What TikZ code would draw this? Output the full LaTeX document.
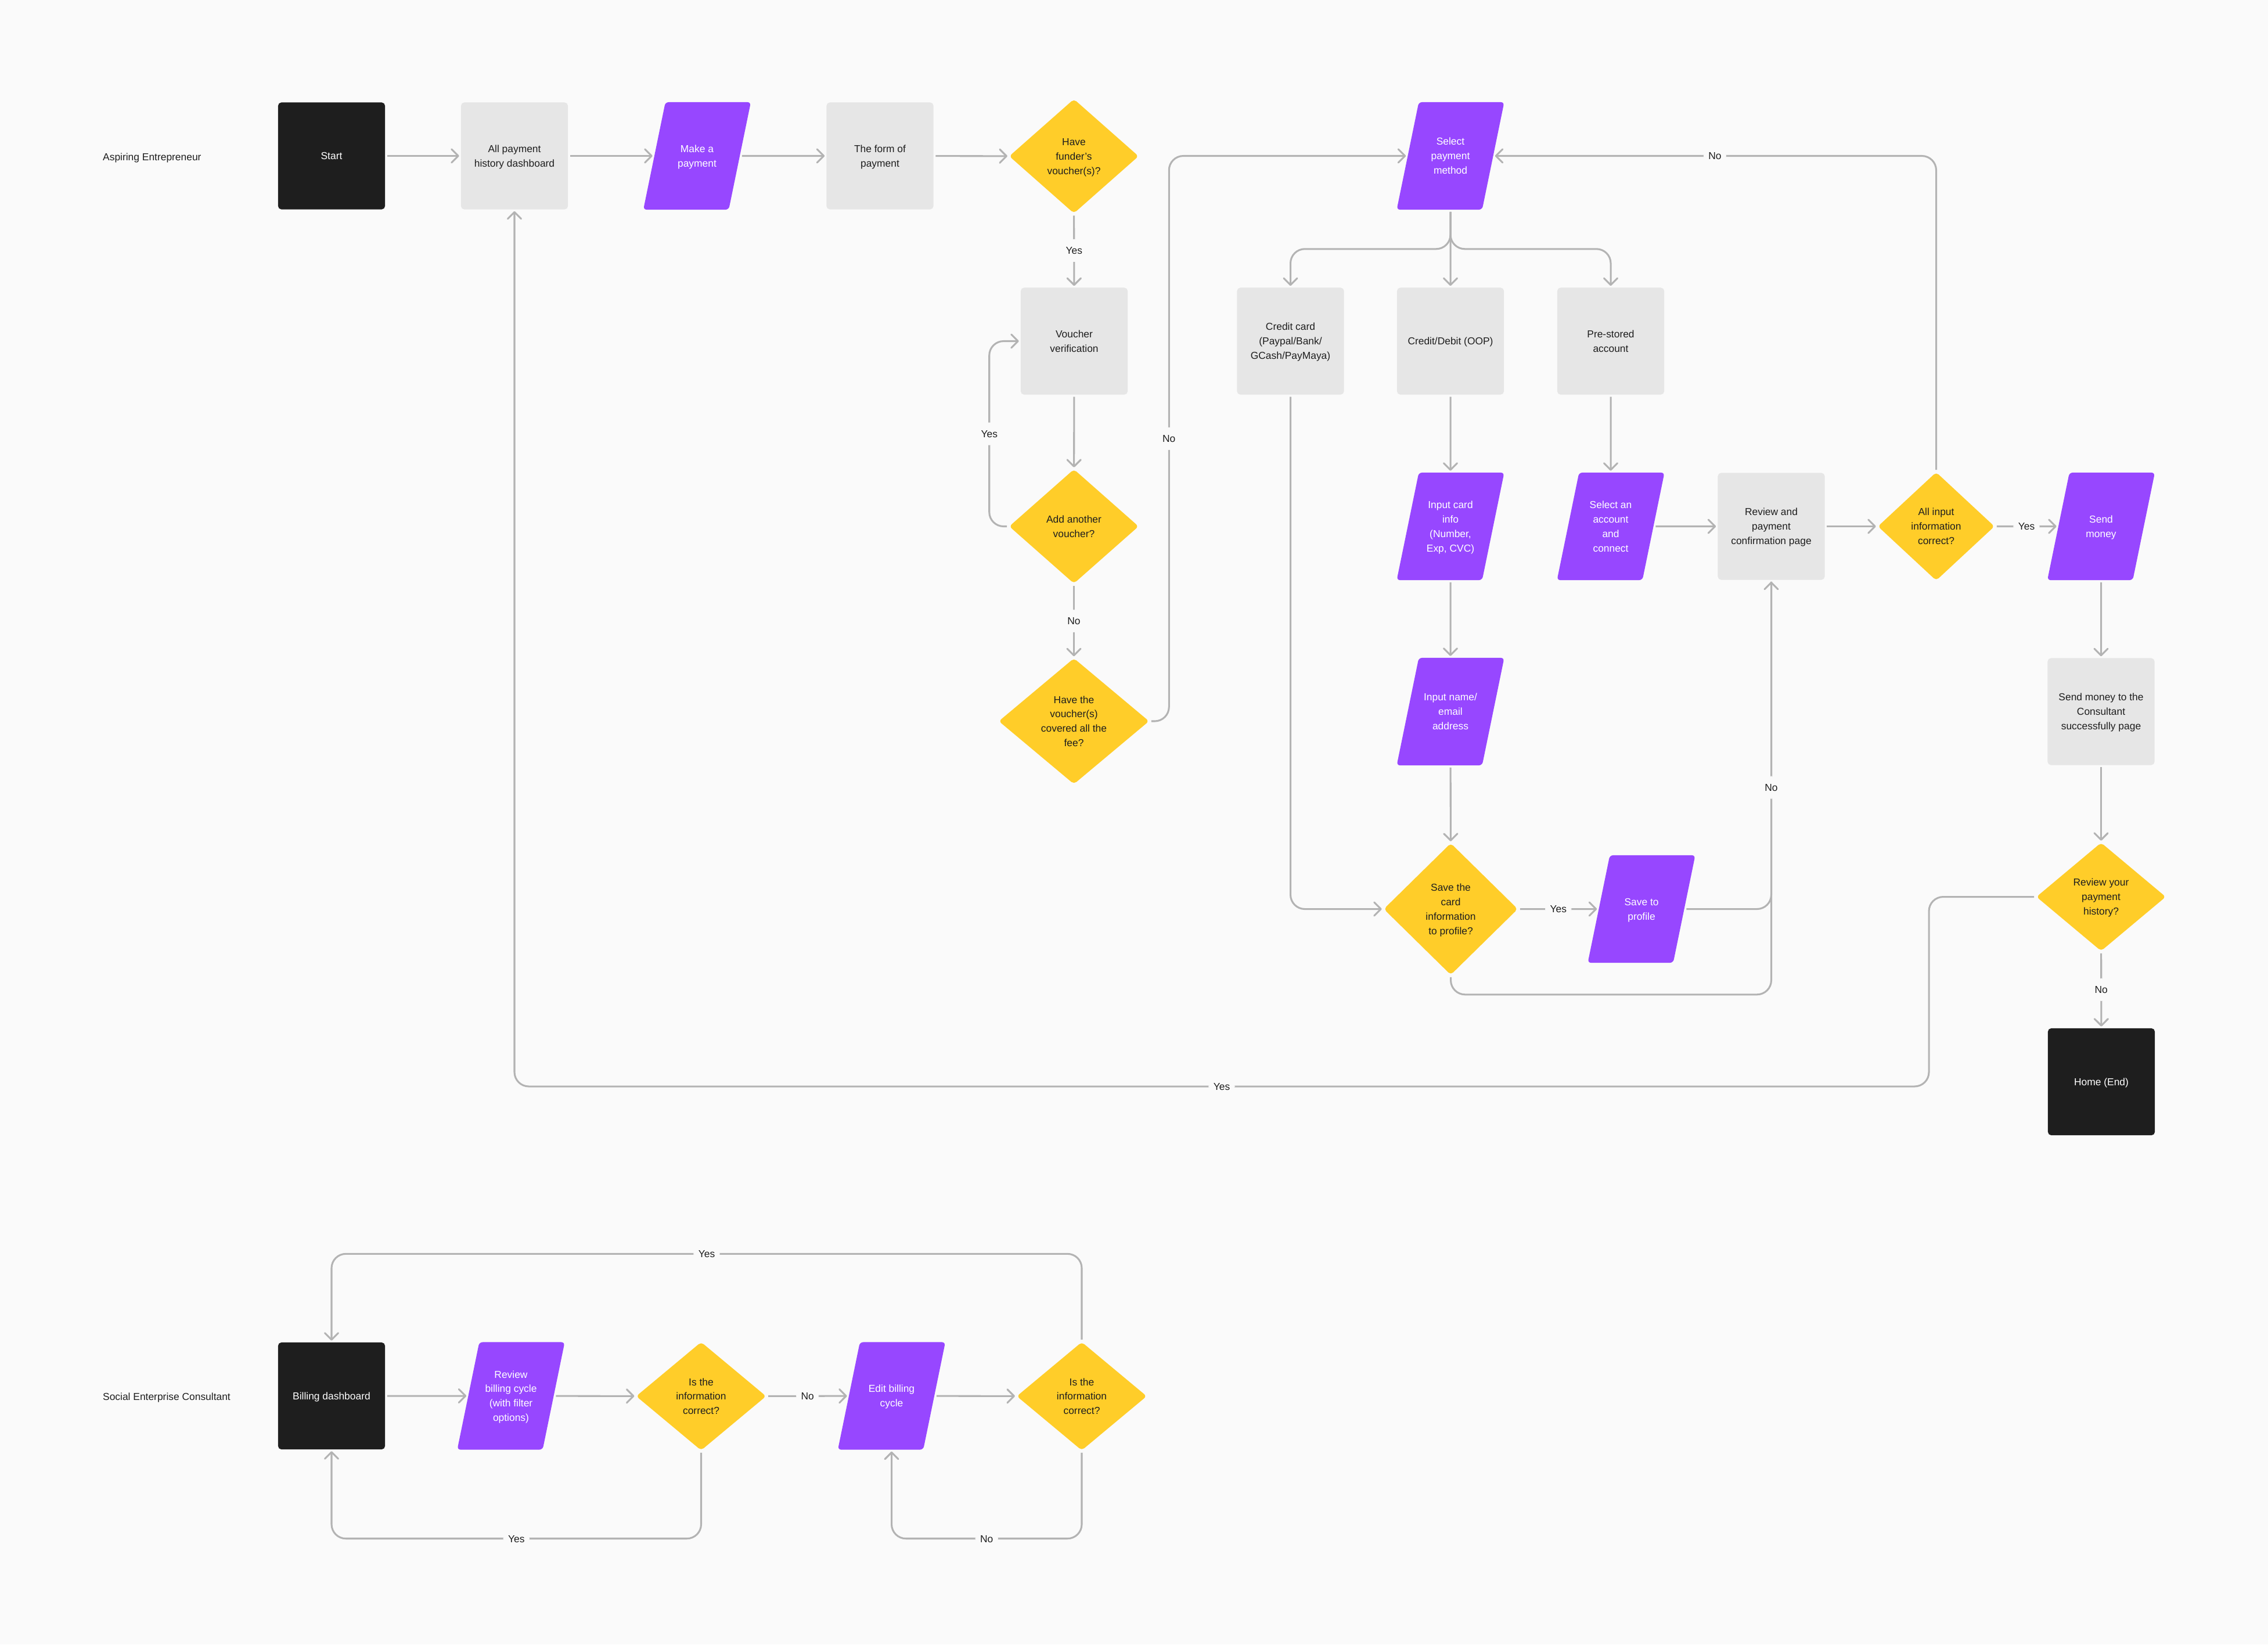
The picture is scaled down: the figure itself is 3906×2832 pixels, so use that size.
\documentclass[tikz,border=0pt]{standalone}
\usepackage{fontspec}
\setmainfont{Liberation Sans}
\usetikzlibrary{shapes.geometric, arrows.meta}

\definecolor{canvas}{HTML}{FAFAFA}
\definecolor{ink}{HTML}{1E1E1E}
\definecolor{stepgray}{HTML}{E6E6E6}
\definecolor{iopurple}{HTML}{9747FF}
\definecolor{askyellow}{HTML}{FFCD29}
\definecolor{wire}{HTML}{B3B3B3}

% line box of one text line
\newcommand\flowstrut{\rule[-1.72pt]{0pt}{7.1pt}}

\begin{document}
\begin{tikzpicture}[x=0.01cm, y=-0.01cm,
  every node/.style={font=\fontsize{4.95}{7.1}\selectfont, text=ink, inner sep=0pt},
  stepbox/.style={rectangle, rounded corners=1.6pt, fill=stepgray, minimum width=1.84cm, minimum height=1.84cm,
    execute at begin node={\begin{minipage}{1.6cm}\centering\flowstrut},
    execute at end node={\flowstrut\end{minipage}}},
  endbox/.style={stepbox, fill=ink, text=white},
  iobox/.style={trapezium, trapezium left angle=78.4, trapezium right angle=101.6, trapezium stretches body,
    rounded corners=1.6pt, fill=iopurple, text=white, minimum width=1.85cm,
    execute at begin node={\begin{minipage}[c][1.85cm][c]{1cm}\centering\flowstrut},
    execute at end node={\flowstrut\end{minipage}}},
  ask/.style={diamond, rounded corners=1.6pt, fill=askyellow,
    execute at begin node={\begin{minipage}{#1}\centering\flowstrut},
    execute at end node={\flowstrut\end{minipage}}},
  ask/.default=1.12cm,
  flow/.style={draw=wire, line width=0.87pt, rounded corners=7pt, shorten >=0.7pt, shorten <=0.9pt,
    -{Straight Barb[length=3.3pt, width=6.6pt, round]}},
  lbl/.style={fill=canvas, inner xsep=2.4pt, inner ysep=2pt, execute at begin node=\flowstrut},
  lane/.style={anchor=west, execute at begin node=\flowstrut}
]

  \path[use as bounding box, fill=canvas] (0,0) rectangle (3906,2832);

  % lane: aspiring entrepreneur
  \node[lane] (lane1) at (176.5,270) {Aspiring Entrepreneur};

  \node[endbox] (start) at (571,268.5) {Start};
  \node[stepbox] (hist) at (886,268.5) {All payment\\history dashboard};
  \node[iobox] (make) at (1200.5,268.5) {Make a\\payment};
  \node[stepbox] (form) at (1515.5,268.5) {The form of\\payment};
  \node[ask, minimum width=2.23cm, minimum height=1.97cm] (dfund) at (1849.5,269) {Have\\funder’s\\voucher(s)?};
  \node[iobox] (spm) at (2498,268.5) {Select\\payment\\method};

  \node[stepbox] (vver) at (1850,587.5) {Voucher\\verification};
  \node[stepbox] (ccard) at (2222.5,587.5) {Credit card\\(Paypal/Bank/\\GCash/PayMaya)};
  \node[stepbox] (cdebit) at (2498,587.5) {Credit/Debit (OOP)};
  \node[stepbox] (prest) at (2774,587.5) {Pre-stored\\account};

  \node[ask, minimum width=2.23cm, minimum height=1.97cm] (danother) at (1849.5,906.5) {Add another\\voucher?};
  \node[iobox] (incard) at (2498,906.5) {Input card\\info\\(Number,\\Exp, CVC)};
  \node[iobox] (selacc) at (2774,906.5) {Select an\\account\\and\\connect};
  \node[stepbox] (review) at (3050.5,906.5) {Review and\\payment\\confirmation page};
  \node[ask, minimum width=2.01cm, minimum height=1.85cm] (dinput) at (3334.5,906.5) {All input\\information\\correct?};
  \node[iobox] (send) at (3618.5,906.5) {Send\\money};

  \node[ask=1.16cm, minimum width=2.59cm, minimum height=2.17cm] (dcover) at (1849.5,1242) {Have the\\voucher(s)\\covered all the\\fee?};
  \node[iobox] (inname) at (2498,1225.5) {Input name/\\email\\address};
  \node[stepbox] (sent) at (3618.5,1225.5) {Send money to the\\Consultant\\successfully page};

  \node[ask, minimum width=2.31cm, minimum height=2.27cm] (dsave) at (2498.5,1565.5) {Save the\\card\\information\\to profile?};
  \node[iobox] (savep) at (2827,1565.5) {Save to\\profile};
  \node[ask, minimum width=2.23cm, minimum height=1.85cm] (dhist) at (3618.5,1544.5) {Review your\\payment\\history?};

  \node[endbox] (home) at (3619,1863) {Home (End)};
  \coordinate (histturn) at (3322,1871);

  \draw[flow] (start) -- (hist);
  \draw[flow] (hist) -- (make);
  \draw[flow] (make) -- (form);
  \draw[flow] (form) -- (dfund);
  \draw[flow] (dfund) -- node[lbl] {Yes} (vver);
  \draw[flow] (vver) -- (danother);
  \draw[flow] (danother.west) -- ++(-33.5,0) |- node[lbl, pos=0.25] {Yes} (vver.west);
  \draw[flow] (danother) -- node[lbl] {No} (dcover);
  \draw[flow] (dcover.east) -- ++(33.5,0) |- node[lbl, pos=0.25] {No} (spm.west);

  \draw[flow] (spm.south) -- (cdebit.north);
  \draw[flow] (spm.south) -- ++(0,67) -| (ccard.north);
  \draw[flow] (spm.south) -- ++(0,67) -| (prest.north);

  \draw[flow] (ccard.south) |- (dsave.west);
  \draw[flow] (cdebit) -- (incard);
  \draw[flow] (incard) -- (inname);
  \draw[flow] (inname) -- (dsave);
  \draw[flow] (dsave) -- node[lbl] {Yes} (savep);
  \draw[flow, -] (savep.east) -| (review.south);
  \draw[flow] (dsave.south) -- ++(0,33) -| node[lbl, pos=0.75] {No} (review.south);

  \draw[flow] (prest) -- (selacc);
  \draw[flow] (selacc) -- (review);
  \draw[flow] (review) -- (dinput);
  \draw[flow] (dinput.north) |- node[lbl, pos=0.75] {No} (spm.east);
  \draw[flow] (dinput) -- node[lbl] {Yes} (send);
  \draw[flow] (send) -- (sent);
  \draw[flow] (sent) -- (dhist);
  \draw[flow] (dhist.west) -| (histturn) -| node[lbl, pos=0.25] {Yes} (hist.south);
  \draw[flow] (dhist) -- node[lbl] {No} (home);

  % lane: social enterprise consultant
  \node[lane] (lane2) at (176.5,2405) {Social Enterprise Consultant};

  \node[endbox] (bill) at (571,2404) {Billing dashboard};
  \node[iobox] (revbill) at (880,2404) {Review\\billing cycle\\(with filter\\options)};
  \node[ask, minimum width=2.24cm, minimum height=1.85cm] (dok1) at (1207.5,2404.5) {Is the\\information\\correct?};
  \node[iobox] (edit) at (1535.5,2404) {Edit billing\\cycle};
  \node[ask, minimum width=2.24cm, minimum height=1.85cm] (dok2) at (1863,2404.5) {Is the\\information\\correct?};

  \draw[flow] (bill) -- (revbill);
  \draw[flow] (revbill) -- (dok1);
  \draw[flow] (dok1) -- node[lbl] {No} (edit);
  \draw[flow] (edit) -- (dok2);
  \draw[flow] (dok1.south) -- ++(0,151) -| node[lbl, pos=0.25] {Yes} (bill.south);
  \draw[flow] (dok2.north) -- ++(0,-151) -| node[lbl, pos=0.25] {Yes} (bill.north);
  \draw[flow] (dok2.south) -- ++(0,151) -| node[lbl, pos=0.25] {No} (edit.south);

\end{tikzpicture}
\end{document}
